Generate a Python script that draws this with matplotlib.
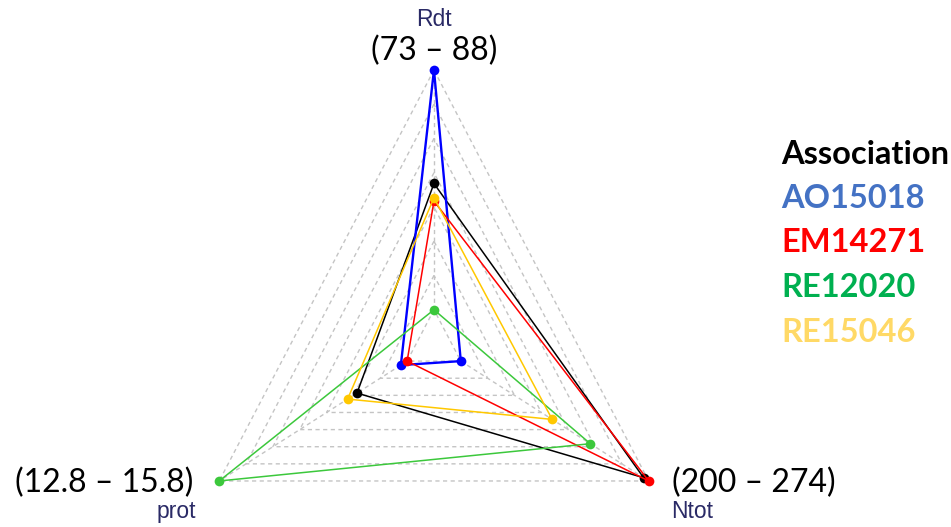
import numpy as np
import matplotlib
matplotlib.use("Agg")
import matplotlib.pyplot as plt

# Variables, in the order they go round the radar (counter-clockwise from the top)
variables = ["Rdt", "prot", "Ntot"]
var_min = [73, 12.8, 200]
var_max = [88, 15.8, 274]
range_labels = ["(73 \u2013 88)", "(12.8 \u2013 15.8)", "(200 \u2013 274)"]

# Associations: values for Rdt, prot, Ntot
names = ["", "AO15018", "EM14271", "RE12020", "RE15046"]
rdt_vals = [80.9, 88.0, 79.8, 73.0, 80.0]
prot_vals = [13.6, 12.9, 12.8, 15.8, 13.75]
ntot_vals = [272, 200, 274, 251, 236]

line_colors = ["#000000", "#0000FF", "#FF0000", "#3CC83C", "#FFC800"]
line_widths = [1.1, 1.7, 1.1, 1.1, 1.1]
legend_colors = ["#4472C4", "#FF0000", "#00B050", "#FFD966"]

SEG = 7  # number of segments between min and max
CGAP = 1

fig = plt.figure(figsize=(9.51, 5.27), dpi=100)
ax = fig.add_axes([0, 0, 1, 1])
ax.set_xlim(-1.75, 2.085)
ax.set_ylim(-0.668, 1.2555)
ax.axis("off")

n = len(variables)
theta = np.deg2rad(np.linspace(90, 450, n + 1)[:n])
xx, yy = np.cos(theta), np.sin(theta)

# guide polygons and spokes
grid_kw = dict(color="#c4c4c4", lw=1.0, linestyle=(0, (3, 2.5)), zorder=1)
for i in range(SEG + 1):
    r = (i + CGAP) / (SEG + CGAP)
    ax.plot(np.append(xx, xx[0]) * r, np.append(yy, yy[0]) * r, **grid_kw)
for k in range(n):
    r0 = 1 / (SEG + CGAP)
    ax.plot([xx[k] * r0, xx[k]], [yy[k] * r0, yy[k]], **grid_kw)


def scaled(vals):
    vals = np.asarray(vals, dtype=float)
    lo, hi = np.asarray(var_min), np.asarray(var_max)
    return CGAP / (SEG + CGAP) + (vals - lo) / (hi - lo) * SEG / (SEG + CGAP)


for j in range(len(names)):
    r = scaled([rdt_vals[j], prot_vals[j], ntot_vals[j]])
    px, py = xx * r, yy * r
    ax.plot(np.append(px, px[0]), np.append(py, py[0]), color=line_colors[j],
            lw=line_widths[j], zorder=3 + j, solid_joinstyle="miter")
    ax.plot(px, py, "o", color=line_colors[j], ms=7, zorder=3 + j, mec="none")

# variable names
lab_kw = dict(family=["Liberation Sans", "DejaVu Sans"], fontsize=16.5,
              color="#2a2a66", ha="center", va="center")
ax.text(0, 1.185, variables[0], **lab_kw)
ax.text(xx[1] * 1.2, yy[1] * 1.2 - 0.01, variables[1], **lab_kw)
ax.text(xx[2] * 1.2, yy[2] * 1.2 - 0.01, variables[2], **lab_kw)

# ranges
rng_kw = dict(family=["Lato", "DejaVu Sans"], fontsize=23, color="black", va="center")
ax.text(0, 1.07, range_labels[0], ha="center", **rng_kw)
ax.text(-0.972, -0.507, range_labels[1], ha="right", **rng_kw)
ax.text(0.96, -0.507, range_labels[2], ha="left", **rng_kw)

# legend as a coloured text list
leg_kw = dict(family=["Lato", "DejaVu Sans"], fontsize=23.5, fontweight="bold",
              ha="left", va="center")
fig.text(781 / 951, 1 - 154 / 527, "Association", color="black", **leg_kw)
for k, (nm, c) in enumerate(zip(names[1:], legend_colors)):
    fig.text(781 / 951, 1 - (198 + 44.7 * k) / 527, nm, color=c, **leg_kw)

fig.savefig("out.png", dpi=100)
